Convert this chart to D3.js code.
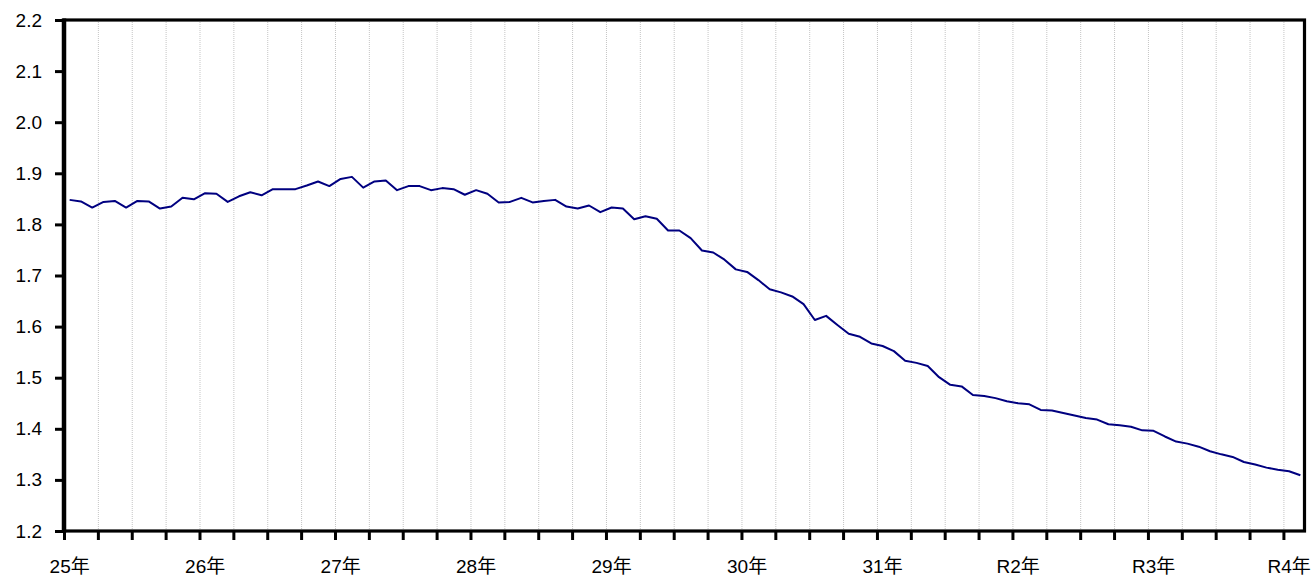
<!DOCTYPE html>
<html>
<head>
<meta charset="utf-8">
<script src="https://cdn.jsdelivr.net/npm/d3@7"></script>
<style>
  body { margin: 0; background: #fff; }
  text { font-family: "Liberation Sans", Arial, "Noto Sans CJK JP", sans-serif; }
</style>
</head>
<body>
<script>
/* Data */
var yearLabels = ["25年", "26年", "27年", "28年", "29年", "30年", "31年", "R2年", "R3年", "R4年"];
var yTicks = [1.2, 1.3, 1.4, 1.5, 1.6, 1.7, 1.8, 1.9, 2.0, 2.1, 2.2];
// monthly values, from 25年1月
var values = [
  1.848, 1.845, 1.833, 1.844, 1.846, 1.833, 1.846, 1.845, 1.831, 1.835, 1.852, 1.849,
  1.861, 1.860, 1.844, 1.855, 1.863, 1.857, 1.869, 1.869, 1.869, 1.876, 1.884, 1.875,
  1.889, 1.893, 1.872, 1.884, 1.886, 1.867, 1.875, 1.875, 1.867, 1.871, 1.869, 1.858,
  1.867, 1.860, 1.843, 1.844, 1.852, 1.843, 1.846, 1.848, 1.835, 1.831, 1.837, 1.824,
  1.833, 1.831, 1.810, 1.816, 1.811, 1.788, 1.788, 1.773, 1.749, 1.745, 1.731, 1.712,
  1.707, 1.691, 1.673, 1.667, 1.659, 1.644, 1.613, 1.621, 1.603, 1.586, 1.580, 1.567,
  1.562, 1.552, 1.533, 1.529, 1.523, 1.501, 1.486, 1.483, 1.466, 1.464, 1.460, 1.454,
  1.450, 1.448, 1.437, 1.436, 1.431, 1.426, 1.421, 1.418, 1.409, 1.407, 1.404, 1.397,
  1.396, 1.385, 1.375, 1.371, 1.365, 1.356, 1.350, 1.345, 1.335, 1.330, 1.324, 1.320,
  1.317, 1.309
];

/* Categories: one per month */
var categories = [];
yearLabels.forEach(function(y) {
  for (var m = 1; m <= 12; m++) categories.push(y + m + "月");
});
categories = categories.slice(0, values.length);

/* Display setup */
var W = 1315, H = 578,
  plot = {left: 64, top: 20, right: 1306, bottom: 531};

var svg = d3.select("body").append("svg")
  .attr("width", W)
  .attr("height", H);

var x = d3.scaleBand()
  .domain(categories)
  .range([plot.left, plot.right])
  .padding(0);

// category index scale, for ticks between categories
var xi = d3.scaleLinear()
  .domain([0, categories.length])
  .range([plot.left, plot.right]);

var y = d3.scaleLinear()
  .domain([1.2, 2.2])
  .range([plot.bottom, plot.top]);

var quarterTicks = d3.range(3, categories.length, 3);

/* Grid lines */
svg.append("g")
  .attr("transform", "translate(0," + plot.bottom + ")")
  .call(d3.axisBottom(xi).tickValues(quarterTicks).tickSize(-(plot.bottom - plot.top)).tickFormat(""))
  .call(function(g) { g.select(".domain").remove(); })
  .selectAll("line")
    .attr("stroke", "#c4c4c4")
    .attr("stroke-width", 1)
    .attr("stroke-dasharray", "1,1");

/* Line */
var line = d3.line()
  .x(function(d, i) { return x(categories[i]) + x.bandwidth() / 2; })
  .y(function(d) { return y(d); });

svg.append("path")
  .datum(values)
  .attr("d", line)
  .attr("fill", "none")
  .attr("stroke", "#000080")
  .attr("stroke-width", 2)
  .attr("stroke-linejoin", "round");

/* Frame */
svg.append("rect")
  .attr("x", plot.left)
  .attr("y", plot.top)
  .attr("width", plot.right - 1.5 - plot.left)
  .attr("height", plot.bottom - plot.top)
  .attr("fill", "none")
  .attr("stroke", "#000")
  .attr("stroke-width", 3.2);
// value axis line is drawn a bit heavier
svg.append("line")
  .attr("x1", plot.left).attr("x2", plot.left)
  .attr("y1", plot.top - 1.6).attr("y2", plot.bottom + 1.6)
  .attr("stroke", "#000")
  .attr("stroke-width", 4.5);

/* Y axis */
var yAxis = svg.append("g")
  .attr("transform", "translate(" + plot.left + ",0)")
  .call(d3.axisLeft(y).tickValues(yTicks).tickSize(9).tickPadding(13).tickFormat(d3.format(".1f")));
yAxis.select(".domain").remove();
yAxis.selectAll("line").attr("stroke", "#000").attr("stroke-width", 3);
yAxis.selectAll("text").attr("font-size", 19).attr("fill", "#000");

/* X axis ticks */
var xAxis = svg.append("g")
  .attr("transform", "translate(0," + plot.bottom + ")")
  .call(d3.axisBottom(xi).tickValues(d3.range(0, categories.length, 3)).tickSize(9).tickFormat(""));
xAxis.select(".domain").remove();
xAxis.selectAll("line").attr("stroke", "#000").attr("stroke-width", 3);

/* X axis labels, centred on each January */
var xLabels = svg.append("g")
  .attr("transform", "translate(0," + plot.bottom + ")")
  .call(d3.axisBottom(x)
    .tickValues(categories.filter(function(d, i) { return i % 12 === 0; }))
    .tickSize(0)
    .tickPadding(29)
    .tickFormat(function(d) { return d.replace(/1月$/, ""); }));
xLabels.select(".domain").remove();
xLabels.selectAll("text").attr("font-size", 19).attr("fill", "#000");
</script>
</body>
</html>
